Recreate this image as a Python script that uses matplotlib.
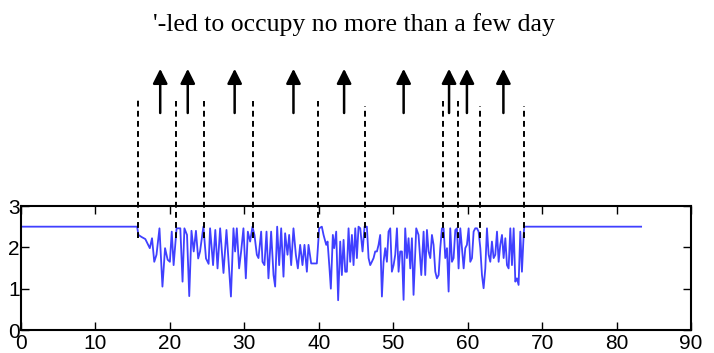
import matplotlib
matplotlib.use('Agg')
import matplotlib.pyplot as plt

# 信号折线的顶点 (时间, 数值)
sig_x = [0, 15.6, 15.77, 16.2, 16.7, 17.1, 17.3, 17.6, 17.9, 18.2, 18.6, 19.0, 19.35, 19.7,
         20.0, 20.25, 20.5, 20.9, 21.4, 21.7, 21.95, 22.3, 22.6, 22.9, 23.2, 23.5, 23.8,
         24.05, 24.5, 24.85, 25.2, 25.4, 25.8, 26.1, 26.4, 26.75, 27.2, 27.6, 28.2,
         28.54, 28.76, 28.99, 29.3, 29.57, 29.88, 30.2, 30.47, 30.78, 31.09, 31.36, 31.68,
         31.9, 32.26, 32.44, 32.7, 32.98, 33.24, 33.6, 33.92, 34.14, 34.41, 34.68, 34.95,
         35.26, 35.48, 35.8, 36.02, 36.29, 36.6, 36.92, 37.19, 37.5, 37.81, 38.08, 38.4,
         38.62, 38.98, 39.29, 39.74, 40.05, 40.41, 40.64, 41.0, 41.18, 41.44, 41.62, 41.89,
         42.07, 42.34, 42.6, 42.88, 43.1, 43.33, 43.55, 43.77, 44.0, 44.22, 44.45, 44.67,
         44.9, 45.12, 45.34, 45.57, 45.88, 46.15, 46.46, 46.69, 46.91, 47.13, 47.36, 47.58,
         47.81, 48.03, 48.25, 48.48, 48.7, 48.93, 49.15, 49.37, 49.6, 49.82, 50.05, 50.27,
         50.5, 50.72, 50.94, 51.17, 51.39, 51.61, 51.84, 52.06, 52.29, 52.51, 52.73, 53.09,
         53.4, 53.77, 54.08, 54.3, 54.53, 54.75, 54.98, 55.2, 55.42, 55.65, 55.87, 56.1,
         56.32, 56.54, 56.77, 56.99, 57.22, 57.44, 57.66, 57.89, 58.11, 58.34, 58.56, 58.78,
         59.01, 59.23, 59.46, 59.68, 59.9, 60.13, 60.35, 60.58, 60.8, 61.02, 61.25, 61.47,
         61.7, 61.92, 62.14, 62.37, 62.59, 62.82, 63.04, 63.26, 63.49, 63.71, 63.94, 64.16,
         64.38, 64.61, 64.83, 65.06, 65.28, 65.5, 65.73, 65.95, 66.18, 66.4, 66.62, 66.84,
         67.07, 67.29, 67.52, 67.6, 83.3]
sig_y = [2.5, 2.5, 2.3, 2.25, 2.2, 2.05, 1.98, 2.22, 1.65, 1.82, 2.46, 1.05, 1.98, 1.7,
         1.65, 2.38, 1.57, 2.46, 2.46, 1.17, 2.46, 2.3, 0.82, 2.4, 1.9, 2.4, 1.73,
         1.9, 2.5, 1.73, 1.6, 2.46, 1.57, 2.42, 1.49, 2.46, 1.38, 2.42, 0.81,
         2.46, 1.9, 2.46, 1.49, 1.9, 2.46, 1.25, 2.38, 2.14, 2.5, 2.3, 1.82,
         1.74, 2.38, 1.65, 1.57, 2.38, 1.25, 2.38, 1.33, 1.05, 2.5, 1.57, 2.46,
         1.29, 2.34, 1.82, 2.3, 1.57, 2.46, 1.82, 1.49, 2.06, 1.57, 2.06, 1.41,
         2.06, 1.61, 1.61, 1.61, 2.46, 2.5, 2.3, 2.06, 2.14, 1.49, 1.0, 2.3,
         1.98, 2.38, 0.72, 2.14, 1.33, 2.18, 1.41, 1.41, 2.46, 1.65, 2.3, 1.57,
         2.46, 1.74, 2.5, 2.46, 1.9, 2.5, 2.5, 1.74, 1.57, 1.65, 1.74, 1.9,
         1.9, 2.06, 2.3, 0.81, 1.65, 1.98, 1.65, 2.38, 2.46, 1.41, 1.57, 1.82,
         2.46, 1.41, 1.9, 1.9, 0.73, 2.46, 1.74, 2.22, 1.49, 2.22, 0.85, 2.46,
         2.3, 1.33, 2.38, 1.33, 2.42, 1.9, 1.74, 2.3, 2.06, 1.41, 1.25, 1.33,
         1.98, 2.46, 2.46, 1.74, 1.98, 0.93, 2.46, 1.65, 1.74, 2.42, 2.46, 1.49,
         2.46, 1.98, 1.49, 1.98, 2.06, 2.46, 1.65, 1.74, 2.38, 2.46, 2.46, 2.38,
         1.98, 1.33, 1.01, 1.49, 2.46, 1.82, 1.65, 2.14, 1.74, 1.82, 2.38, 1.65,
         2.06, 2.3, 1.74, 2.22, 1.57, 1.49, 2.46, 1.57, 2.46, 1.17, 1.25, 1.09,
         2.38, 1.41, 2.3, 2.5, 2.5]

# 虚线 (事件分界) 的位置和顶端
dash_x = [15.7, 20.8, 24.6, 31.1, 39.9, 46.2, 56.7, 58.7, 61.6, 67.6]
dash_top = [5.62, 5.53, 5.53, 5.53, 5.53, 5.43, 5.53, 5.53, 5.43, 5.43]
dash_bottom = 2.23

# 箭头位置
arrow_x = [18.7, 22.4, 28.7, 36.6, 43.4, 51.4, 57.5, 59.9, 64.8]
arrow_base, arrow_tip = 5.25, 6.32

x_ticks = [0, 10, 20, 30, 40, 50, 60, 70, 80, 90]
y_ticks = [0, 1, 2, 3]
caption = "'-led to occupy no more than a few day"

plt.rcParams['font.family'] = ['Liberation Sans', 'DejaVu Sans']

fig = plt.figure(figsize=(7.14, 3.53), dpi=100)
ax = fig.add_axes([21 / 714, 23 / 353, 670 / 714, 124 / 353])

ax.plot(sig_x, sig_y, color='#4040ff', lw=1.3)
ax.set_xlim(0, 90)
ax.set_ylim(0, 3)
ax.set_xticks(x_ticks)
ax.set_yticks(y_ticks)
ax.tick_params(direction='in', length=6, width=1, top=True, right=True,
               labelsize=15, pad=1)
ax.tick_params(axis='x', pad=3)
for s in ax.spines.values():
    s.set_linewidth(1.5)

ax.vlines(dash_x, dash_bottom, dash_top, colors='black', linewidth=1.4,
          linestyles=(0, (3, 2.2)), clip_on=False)

for x in arrow_x:
    ax.annotate('', xy=(x, arrow_tip), xytext=(x, arrow_base),
                annotation_clip=False,
                arrowprops=dict(arrowstyle='-|>', color='black', lw=1.8,
                                mutation_scale=22, shrinkA=0, shrinkB=0))

fig.text(153 / 714, 1 - 25 / 353, caption, family='Liberation Serif',
         fontsize=18.5, ha='left', va='center')

fig.savefig('out.png', dpi=100)
plt.close(fig)
